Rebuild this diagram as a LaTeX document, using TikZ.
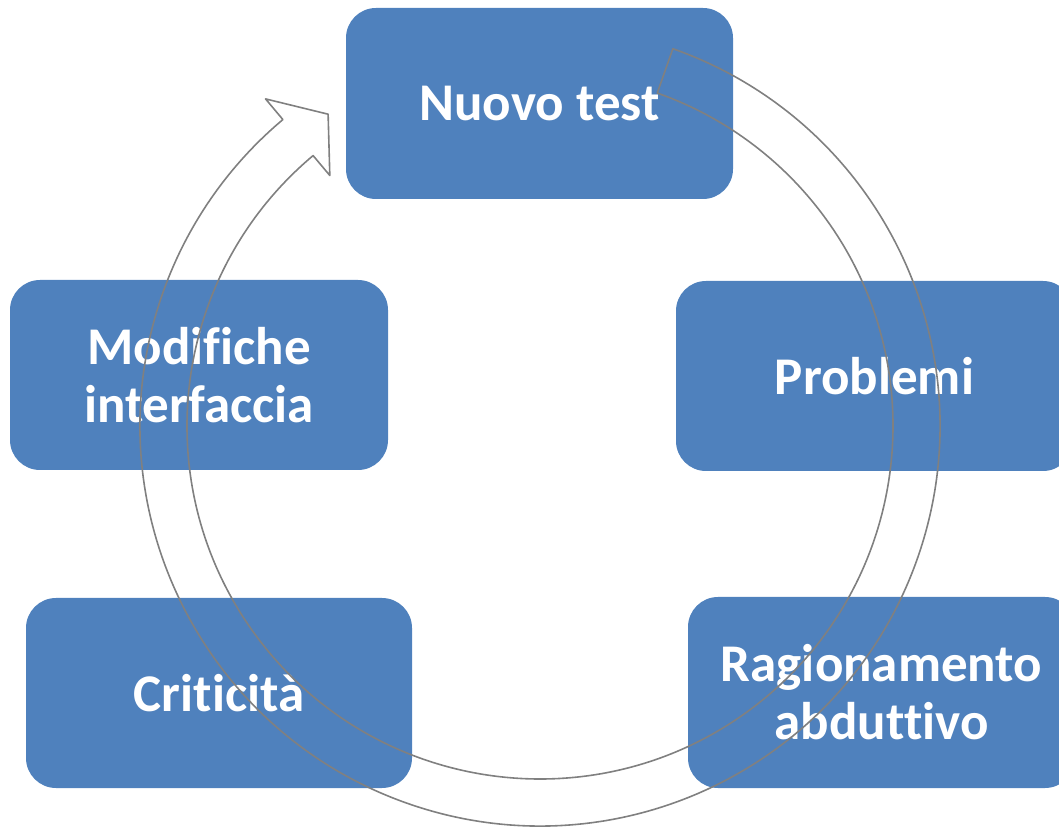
\documentclass[tikz,border=0pt]{standalone}
\usepackage{fontspec}
\setmainfont{Carlito}[Ligatures=NoCommon]
\usepackage{tikz}
\usetikzlibrary{positioning}
\definecolor{faseblu}{HTML}{4F81BD}

\begin{document}
\begin{tikzpicture}[x=1pt,y=1pt,node distance=80pt,line join=round]
				  \tikzstyle{fase}=[fill=faseblu,draw=none,rounded corners=30pt,inner sep=0pt,outer sep=0pt,
				  	minimum width=387pt,minimum height=190pt,text=white,align=center,
				  	font=\fontsize{53}{58}\selectfont\bfseries]
				  \tikzstyle{giro}=[draw=gray,line width=1.6pt,fill=none]
				
				  \useasboundingbox (0,0) rectangle (1059,827);
				  \coordinate (c) at (540,401);
				
				  \node[fase]          (nuovo) at (539.5,723.5) [minimum height=191pt] {Nuovo test};
				  \node[fase]          (problemi) [below right=82pt and -57pt of nuovo,minimum width=397pt] {Problemi};
				  \node[fase]          (ragionamento) [below right=126pt and 12pt of problemi.south west,minimum height=191pt] {Ragionamento\\abduttivo};
				  \node[fase]          (modifiche) [below left=81pt and -42pt of nuovo,minimum width=378pt] {Modifiche\\interfaccia};
				  \node[fase]          (criticita) [below right=128pt and 16pt of modifiche.south west,minimum width=386pt] {Criticità};
				
				  \path[giro]
				  	([shift={(70.6:400)}]c) arc[start angle=70.6,end angle=-230,radius=400]
				  	-- ([shift={(130:427)}]c) -- ([shift={(124.2:377)}]c) -- ([shift={(130:327)}]c)
				  	-- ([shift={(130:353)}]c) arc[start angle=-230,end angle=70.6,radius=353]
				  	-- cycle;
			\end{tikzpicture}
\end{document}
